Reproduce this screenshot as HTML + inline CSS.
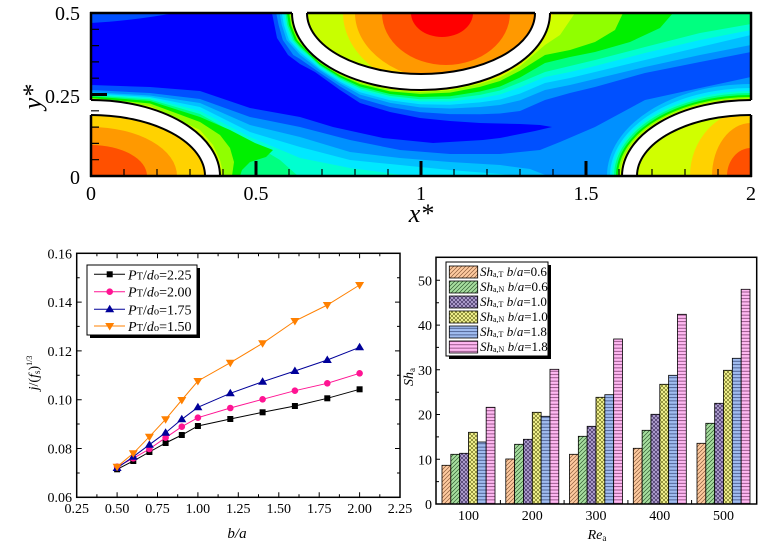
<!DOCTYPE html>
<html><head><meta charset="utf-8"><style>
html,body{margin:0;padding:0;background:#fff;}
svg{display:block;}
text{font-family:"Liberation Serif","Times New Roman",serif;fill:#000;}
</style></head><body>
<svg width="784" height="551" viewBox="0 0 784 551" xmlns="http://www.w3.org/2000/svg">
<defs>
<clipPath id="dom"><rect x="91" y="13" width="660" height="163"/></clipPath>
<clipPath id="t1"><ellipse cx="91" cy="176" rx="114" ry="61"/></clipPath>
<clipPath id="t2"><ellipse cx="421" cy="13" rx="114" ry="61"/></clipPath>
<clipPath id="t3"><ellipse cx="751" cy="176" rx="114" ry="61"/></clipPath>
<pattern id="pa" patternUnits="userSpaceOnUse" width="4" height="4"><rect width="4" height="4" fill="#FFCBA0"/><path d="M-1,1L1,-1M0,4L4,0M3,5L5,3" stroke="#8a5a3a" stroke-width="0.7"/></pattern>
<pattern id="pb" patternUnits="userSpaceOnUse" width="4" height="4"><rect width="4" height="4" fill="#A8DFA0"/><path d="M-1,1L1,-1M0,4L4,0M3,5L5,3" stroke="#305a30" stroke-width="0.7"/></pattern>
<pattern id="pc" patternUnits="userSpaceOnUse" width="4" height="4"><rect width="4" height="4" fill="#B8A8D8"/><path d="M0,0L4,4M4,0L0,4" stroke="#403060" stroke-width="0.7"/></pattern>
<pattern id="pd" patternUnits="userSpaceOnUse" width="4" height="4"><rect width="4" height="4" fill="#FFFF9A"/><path d="M0,0L4,4M4,0L0,4" stroke="#707020" stroke-width="0.7"/></pattern>
<pattern id="pe" patternUnits="userSpaceOnUse" width="4" height="3.3"><rect width="4" height="3.3" fill="#A0BCF0"/><path d="M0,1.6H4" stroke="#304070" stroke-width="0.7"/></pattern>
<pattern id="pf" patternUnits="userSpaceOnUse" width="4" height="3.3"><rect width="4" height="3.3" fill="#FFB8F2"/><path d="M0,1.6H4" stroke="#703060" stroke-width="0.7"/></pattern>
</defs>

<!-- ================= CONTOUR PLOT ================= -->
<g clip-path="url(#dom)">
<rect x="91" y="13" width="660" height="163" fill="#0050FF"/>
<path fill="#0000FF" d="M91,23 Q130,21 175,13 L272,13 L277,38 L288,55 L300,64 L315,72 L340,90 L360,103 L390,112 L420,118 L450,121 L480,123 L520,124 L540,125 L552,127 L535,131 L500,138 L483,140 L433,143 L383,138 L333,127 L300,117 L250,108 L200,91 L150,87 L91,85 Z"/>
<g fill="#0090FF">
<path d="M276.2,0 L276.2,13 L278.6,25 L282.8,40 L293.3,55 L300,59 L320,72.9 L340,86.4 L360,98.4 L390,107 L420,112.1 L450,114.1 L480,114.2 L500,113.5 L520,111 L545,100 L570,93 L595,87 L645,73 L700,62 L751,52 L760,52 L760,0Z"/>
<path d="M80,90 L91,90 L150,93 L200,99 L250,117 L300,127 L350,140 L400,150 L450,154 L500,154 L540,150 L560,142 L595,127 L645,100 L700,88 L751,77 L760,77 L760,190 L80,190 Z"/>
</g>
<g fill="#00C0FF">
<path d="M279.6,0 L279.6,13 L281.8,25 L286.6,40 L300,54.9 L320,70.3 L340,83.5 L360,94.6 L390,102.9 L420,107.4 L450,108.5 L480,107 L500,105 L520,100.4 L545,90 L570,85 L595,79 L645,67 L700,55 L751,45 L760,45 L760,0Z"/>
<path d="M80,91.5 L150,95.5 L200,103 L250,125 L300,137 L350,152 L400,158 L450,162 L500,165 L530,169 L548,176 L548,190 L80,190 Z"/>
<ellipse cx="751" cy="176" rx="144" ry="92"/>
</g>
<g fill="#00E8FF">
<path d="M281.8,0 L281.8,13 L283.9,25 L289,40 L300,52.2 L320,68.7 L340,81.7 L360,92.2 L390,100.2 L420,104.3 L450,104.8 L480,102.4 L500,99.5 L520,93.6 L545,83 L570,78 L595,72 L645,60 L700,47 L751,35 L760,35 L760,0Z"/>
<path d="M80,92.5 L150,97 L200,107 L250,132 L300,147 L350,160 L400,165 L450,170 L500,174 L520,176 L520,190 L80,190 Z"/>
<ellipse cx="751" cy="176" rx="141" ry="88"/>
</g>
<g fill="#00FFD0">
<path d="M283.8,0 L283.8,13 L285.8,25 L291.2,40 L300,49.8 L310,58 L320,67.2 L340,80 L360,90 L390,97.8 L420,101.5 L450,101.5 L480,98.2 L500,94.5 L520,87.4 L545,77 L570,72 L595,66 L645,53 L700,40 L751,30 L760,30 L760,0Z"/>
<path d="M80,93.5 L150,98 L200,111 L250,137 L300,158 L350,168 L410,176 L410,190 L80,190 Z"/>
<ellipse cx="751" cy="176" rx="139" ry="85"/>
</g>
<g fill="#00FF80">
<path d="M285.4,0 L285.4,13 L287.3,25 L293,40 L300,47.9 L310,56.5 L320,66 L340,78.6 L360,88.3 L390,95.9 L420,99.2 L450,98.9 L480,94.9 L500,90.5 L520,82.5 L545,72 L570,66 L595,60 L645,47 L700,33 L751,24 L760,24 L760,0Z"/>
<path d="M80,94.5 L150,99.5 L200,114 L250,142 L280,160 L298,176 L298,190 L80,190 Z"/>
<ellipse cx="751" cy="176" rx="137" ry="83"/>
</g>
<g fill="#00F000">
<path d="M287,0 L287,13 L288.9,25 L294.7,40 L300,46 L310,55.5 L320,64.8 L340,77.3 L360,86.5 L390,94 L420,97 L450,96.3 L480,91.5 L500,86.5 L520,77.5 L545,63 L570,57 L595,52 L630,42 L660,28 L673,13 L673,0Z"/>
<path d="M80,95.5 L150,101 L200,117 L230,130 L255,143 L273,150 L266,157 L250,162 L242,170 L240,176 L240,190 L80,190 Z"/>
<ellipse cx="751" cy="176" rx="135" ry="81"/>
</g>
<g fill="#90FF00">
<path d="M289.2,0 L289.2,13 L291,25 L297.1,40 L300,43.4 L310,54 L320,63.1 L340,75.4 L360,84.1 L390,91.4 L420,93.9 L450,92.6 L480,86.9 L500,81 L520,70.7 L545,55 L570,50 L595,42 L615,30 L623,13 L623,0Z"/>
<path d="M80,97 L150,103.5 L200,122 L220,135 L230,148 L234,162 L232,176 L232,190 L80,190 Z"/>
<ellipse cx="751" cy="176" rx="133" ry="79"/>
</g>
<g fill="#D0FF00">
<path d="M290.6,0 L290.6,13 L292.3,25 L298.7,40 L300,41.7 L310,53 L320,62 L340,74.2 L360,82.5 L390,89.7 L420,92 L450,90.3 L480,83.9 L500,77.5 L520,66.3 L545,45 L560,35 L575,13 L575,0Z"/>
<path d="M80,98.5 L150,106 L200,130 L213,145 L220,160 L224,176 L224,190 L80,190 Z"/>
<ellipse cx="751" cy="176" rx="131" ry="77.5"/>
</g>
<path fill="#FFE000" d="M420,0 L420,91.1 L450,89.3 L480,82.7 L500,76 L520,64.5 L545,38 L553,13 L553,0Z"/>

<g fill="#fff">
<ellipse cx="91" cy="176" rx="129" ry="76"/>
<ellipse cx="421" cy="13" rx="129" ry="77"/>
<ellipse cx="751" cy="176" rx="129" ry="76"/>
</g>
<g clip-path="url(#t1)">
<rect x="-30" y="100" width="250" height="80" fill="#FFD200"/>
<ellipse cx="91" cy="176" rx="86" ry="49" fill="#FF9900"/>
<ellipse cx="91" cy="176" rx="56" ry="31" fill="#FF5000"/>
</g>
<g clip-path="url(#t2)">
<rect x="300" y="0" width="250" height="80" fill="#C8FF00"/>
<ellipse cx="455" cy="13" rx="112" ry="80" fill="#FFD200"/>
<ellipse cx="450" cy="13" rx="95" ry="68" fill="#FF9900"/>
<ellipse cx="446" cy="13" rx="64" ry="52" fill="#FF5000"/>
<ellipse cx="442" cy="13" rx="31" ry="24" fill="#FF0000"/>
</g>
<g clip-path="url(#t3)">
<rect x="630" y="110" width="130" height="70" fill="#D0FF00"/>
<ellipse cx="751" cy="176" rx="61" ry="66" fill="#FFD200"/>
<ellipse cx="751" cy="176" rx="39" ry="53" fill="#FF9900"/>
<ellipse cx="751" cy="176" rx="24" ry="28" fill="#FF5000"/>
</g>
<g fill="none" stroke="#000" stroke-width="2">
<ellipse cx="91" cy="176" rx="114" ry="61"/>
<ellipse cx="91" cy="176" rx="129" ry="76"/>
<ellipse cx="421" cy="13" rx="114" ry="61"/>
<ellipse cx="421" cy="13" rx="129" ry="77"/>
<ellipse cx="751" cy="176" rx="114" ry="61"/>
<ellipse cx="751" cy="176" rx="129" ry="76"/>
</g>
</g>
<!-- frame -->
<g stroke="#000" stroke-width="2.5" fill="none">
<path d="M90,13H292 M307,13H535 M550,13H752"/>
<path d="M91,12V100 M91,115V177 M751,12V100 M751,115V177"/>
<path d="M90,176H752"/>
</g>
<g stroke="#000" fill="none">
<path stroke-width="1.2" d="M91,159.7h8M91,143.4h8M91,127.1h8M91,110.8h8M91,78.2h8M91,61.9h8M91,45.6h8M91,29.3h8"/>
<path stroke-width="3" d="M91,94.5h16"/>
<path stroke-width="1.2" d="M124,176v-7M157,176v-7M190,176v-7M223,176v-7M289,176v-7M322,176v-7M355,176v-7M388,176v-7M454,176v-7M487,176v-7M520,176v-7M553,176v-7M619,176v-7M652,176v-7M685,176v-7M718,176v-7"/>
<path stroke-width="3" d="M256,176v-15M421,176v-15M586,176v-15"/>
</g>
<g font-size="20">
<text x="80" y="20" text-anchor="end">0.5</text>
<text x="80" y="103" text-anchor="end">0.25</text>
<text x="80" y="184" text-anchor="end">0</text>
<text x="91" y="200" text-anchor="middle">0</text>
<text x="256" y="200" text-anchor="middle">0.5</text>
<text x="421" y="200" text-anchor="middle">1</text>
<text x="586" y="200" text-anchor="middle">1.5</text>
<text x="751" y="200" text-anchor="middle">2</text>
</g>
<text transform="translate(41,97) rotate(-90)" text-anchor="middle" font-size="26" font-style="italic">y*</text>
<text x="421" y="222" text-anchor="middle" font-size="26" font-style="italic">x*</text>

<!-- ================= LINE CHART ================= -->
<rect x="76.7" y="253.3" width="323.3" height="244" fill="none" stroke="#000" stroke-width="1.5"/>
<g stroke="#000" stroke-width="1" fill="none">
<path d="M117.1,497.3v-5M157.5,497.3v-5M197.9,497.3v-5M238.3,497.3v-5M278.8,497.3v-5M319.2,497.3v-5M359.6,497.3v-5"/>
<path d="M96.9,497.3v-3M137.3,497.3v-3M177.7,497.3v-3M218.1,497.3v-3M258.5,497.3v-3M299,497.3v-3M339.4,497.3v-3M379.8,497.3v-3"/>
<path d="M117.1,253.3v5M157.5,253.3v5M197.9,253.3v5M238.3,253.3v5M278.8,253.3v5M319.2,253.3v5M359.6,253.3v5"/>
<path d="M96.9,253.3v3M137.3,253.3v3M177.7,253.3v3M218.1,253.3v3M258.5,253.3v3M299,253.3v3M339.4,253.3v3M379.8,253.3v3"/>
<path d="M76.7,448.5h5M76.7,399.7h5M76.7,350.9h5M76.7,302.1h5M76.7,473h3M76.7,424h3M76.7,375.2h3M76.7,326.4h3M76.7,277.7h3"/>
<path d="M400,448.5h-5M400,399.7h-5M400,350.9h-5M400,302.1h-5M400,473h-3M400,424h-3M400,375.2h-3M400,326.4h-3M400,277.7h-3"/>
</g>
<g font-size="14" text-anchor="end">
<text x="72" y="502">0.06</text>
<text x="72" y="453.5">0.08</text>
<text x="72" y="404.7">0.10</text>
<text x="72" y="355.9">0.12</text>
<text x="72" y="307.1">0.14</text>
<text x="72" y="258.3">0.16</text>
</g>
<g font-size="14" text-anchor="middle">
<text x="76.7" y="513">0.25</text>
<text x="117.1" y="513">0.50</text>
<text x="157.5" y="513">0.75</text>
<text x="197.9" y="513">1.00</text>
<text x="238.3" y="513">1.25</text>
<text x="278.8" y="513">1.50</text>
<text x="319.2" y="513">1.75</text>
<text x="359.6" y="513">2.00</text>
<text x="400" y="513">2.25</text>
</g>
<text transform="translate(38,373) rotate(-90)" text-anchor="middle" font-size="14"><tspan font-style="italic">j</tspan>/(<tspan font-style="italic">f</tspan><tspan font-size="9" dy="2">s</tspan><tspan dy="-2">)</tspan><tspan font-size="8" dy="-6">1/3</tspan></text>
<text x="237" y="538" text-anchor="middle" font-size="15" font-style="italic">b/a</text>

<!-- series -->
<g fill="none" stroke-width="1">
<polyline stroke="#000" points="117.1,469.3 133.3,461 149.4,452 165.6,443 181.8,435 197.9,426 230.3,419 262.6,412.3 294.9,406 327.3,398.3 359.6,389.3"/>
<polyline stroke="#FF1493" points="117.1,466.7 133.3,458.3 149.4,449 165.6,437.7 181.8,426.7 197.9,417.7 230.3,408 262.6,399.3 294.9,390.7 327.3,383.3 359.6,373.3"/>
<polyline stroke="#000099" points="117.1,468 133.3,456.7 149.4,444.7 165.6,432.7 181.8,419.3 197.9,407.3 230.3,393.3 262.6,381.7 294.9,371 327.3,360 359.6,347.3"/>
<polyline stroke="#FF8000" points="117.1,466.7 133.3,453.3 149.4,436.7 165.6,419.3 181.8,400 197.9,381 230.3,362.7 262.6,343.3 294.9,321 327.3,305 359.6,285"/>
</g>
<g fill="#000">
<rect x="114.1" y="466.3" width="6" height="6"/><rect x="130.3" y="458" width="6" height="6"/><rect x="146.4" y="449" width="6" height="6"/><rect x="162.6" y="440" width="6" height="6"/><rect x="178.8" y="432" width="6" height="6"/><rect x="194.9" y="423" width="6" height="6"/><rect x="227.3" y="416" width="6" height="6"/><rect x="259.6" y="409.3" width="6" height="6"/><rect x="291.9" y="403" width="6" height="6"/><rect x="324.3" y="395.3" width="6" height="6"/><rect x="356.6" y="386.3" width="6" height="6"/>
</g>
<g fill="#FF1493">
<circle cx="117.1" cy="466.7" r="3.3"/><circle cx="133.3" cy="458.3" r="3.3"/><circle cx="149.4" cy="449" r="3.3"/><circle cx="165.6" cy="437.7" r="3.3"/><circle cx="181.8" cy="426.7" r="3.3"/><circle cx="197.9" cy="417.7" r="3.3"/><circle cx="230.3" cy="408" r="3.3"/><circle cx="262.6" cy="399.3" r="3.3"/><circle cx="294.9" cy="390.7" r="3.3"/><circle cx="327.3" cy="383.3" r="3.3"/><circle cx="359.6" cy="373.3" r="3.3"/>
</g>
<g fill="#000099">
<path d="M117.1,463.5l4.5,7.5h-9z M133.3,452.2l4.5,7.5h-9z M149.4,440.2l4.5,7.5h-9z M165.6,428.2l4.5,7.5h-9z M181.8,414.8l4.5,7.5h-9z M197.9,402.8l4.5,7.5h-9z M230.3,388.8l4.5,7.5h-9z M262.6,377.2l4.5,7.5h-9z M294.9,366.5l4.5,7.5h-9z M327.3,355.5l4.5,7.5h-9z M359.6,342.8l4.5,7.5h-9z"/>
</g>
<g fill="#FF8000">
<path d="M117.1,471.2l4.5,-7.5h-9z M133.3,457.8l4.5,-7.5h-9z M149.4,441.2l4.5,-7.5h-9z M165.6,423.8l4.5,-7.5h-9z M181.8,404.5l4.5,-7.5h-9z M197.9,385.5l4.5,-7.5h-9z M230.3,367.2l4.5,-7.5h-9z M262.6,347.8l4.5,-7.5h-9z M294.9,325.5l4.5,-7.5h-9z M327.3,309.5l4.5,-7.5h-9z M359.6,289.5l4.5,-7.5h-9z"/>
</g>
<!-- legend -->
<rect x="90" y="268" width="110" height="70" fill="#000"/>
<rect x="87" y="265" width="110" height="70" fill="#fff" stroke="#000" stroke-width="1"/>
<g stroke-width="1">
<line x1="94" y1="274.3" x2="125" y2="274.3" stroke="#000"/>
<line x1="94" y1="291.7" x2="125" y2="291.7" stroke="#FF1493"/>
<line x1="94" y1="309.3" x2="125" y2="309.3" stroke="#000099"/>
<line x1="94" y1="326" x2="125" y2="326" stroke="#FF8000"/>
</g>
<rect x="106.7" y="271.3" width="6" height="6" fill="#000"/>
<circle cx="109.7" cy="291.7" r="3.3" fill="#FF1493"/>
<path d="M109.7,304.8l4.5,7.5h-9z" fill="#000099"/>
<path d="M109.7,330.5l4.5,-7.5h-9z" fill="#FF8000"/>
<g font-size="14">
<text x="128" y="279.3"><tspan font-style="italic">P</tspan><tspan font-size="10.5">T</tspan>/<tspan font-style="italic">d</tspan><tspan font-size="10.5">o</tspan>=2.25</text>
<text x="128" y="296.7"><tspan font-style="italic">P</tspan><tspan font-size="10.5">T</tspan>/<tspan font-style="italic">d</tspan><tspan font-size="10.5">o</tspan>=2.00</text>
<text x="128" y="314.3"><tspan font-style="italic">P</tspan><tspan font-size="10.5">T</tspan>/<tspan font-style="italic">d</tspan><tspan font-size="10.5">o</tspan>=1.75</text>
<text x="128" y="331"><tspan font-style="italic">P</tspan><tspan font-size="10.5">T</tspan>/<tspan font-style="italic">d</tspan><tspan font-size="10.5">o</tspan>=1.50</text>
</g>

<!-- ================= BAR CHART ================= -->
<g stroke="#000" stroke-width="0.8">
<rect x="442" y="465.3" width="8.83" height="38.7" fill="url(#pa)"/>
<rect x="450.83" y="454.3" width="8.83" height="49.7" fill="url(#pb)"/>
<rect x="459.67" y="453.3" width="8.83" height="50.7" fill="url(#pc)"/>
<rect x="468.5" y="432.3" width="8.83" height="71.7" fill="url(#pd)"/>
<rect x="477.33" y="442" width="8.83" height="62" fill="url(#pe)"/>
<rect x="486.17" y="407.3" width="8.83" height="96.7" fill="url(#pf)"/>

<rect x="505.8" y="459" width="8.83" height="45" fill="url(#pa)"/>
<rect x="514.63" y="444.3" width="8.83" height="59.7" fill="url(#pb)"/>
<rect x="523.47" y="439.3" width="8.83" height="64.7" fill="url(#pc)"/>
<rect x="532.3" y="412.3" width="8.83" height="91.7" fill="url(#pd)"/>
<rect x="541.13" y="416.3" width="8.83" height="87.7" fill="url(#pe)"/>
<rect x="549.97" y="369.3" width="8.83" height="134.7" fill="url(#pf)"/>

<rect x="569.5" y="454.3" width="8.83" height="49.7" fill="url(#pa)"/>
<rect x="578.33" y="436.3" width="8.83" height="67.7" fill="url(#pb)"/>
<rect x="587.17" y="426.3" width="8.83" height="77.7" fill="url(#pc)"/>
<rect x="596" y="397.3" width="8.83" height="106.7" fill="url(#pd)"/>
<rect x="604.83" y="394.7" width="8.83" height="109.3" fill="url(#pe)"/>
<rect x="613.67" y="339" width="8.83" height="165" fill="url(#pf)"/>

<rect x="633.3" y="448.3" width="8.83" height="55.7" fill="url(#pa)"/>
<rect x="642.13" y="430.3" width="8.83" height="73.7" fill="url(#pb)"/>
<rect x="650.97" y="414.3" width="8.83" height="89.7" fill="url(#pc)"/>
<rect x="659.8" y="384.3" width="8.83" height="119.7" fill="url(#pd)"/>
<rect x="668.63" y="375.3" width="8.83" height="128.7" fill="url(#pe)"/>
<rect x="677.47" y="314.3" width="8.83" height="189.7" fill="url(#pf)"/>

<rect x="697" y="443.3" width="8.83" height="60.7" fill="url(#pa)"/>
<rect x="705.83" y="423.3" width="8.83" height="80.7" fill="url(#pb)"/>
<rect x="714.67" y="403.3" width="8.83" height="100.7" fill="url(#pc)"/>
<rect x="723.5" y="370.3" width="8.83" height="133.7" fill="url(#pd)"/>
<rect x="732.33" y="358.3" width="8.83" height="145.7" fill="url(#pe)"/>
<rect x="741.17" y="289.3" width="8.83" height="214.7" fill="url(#pf)"/>
</g>
<rect x="436" y="257.3" width="320.7" height="246.7" fill="none" stroke="#000" stroke-width="1.5"/>
<g stroke="#000" stroke-width="1" fill="none">
<path d="M436,481.6h3M436,459.3h4M436,436.9h3M436,414.5h4M436,392.2h3M436,369.8h4M436,347.4h3M436,325.1h4M436,302.7h3M436,280.3h4"/>
<path d="M500.4,504v-4M564.1,504v-4M627.9,504v-4M691.6,504v-4"/>
</g>
<g font-size="14" text-anchor="end">
<text x="432" y="509">0</text>
<text x="432" y="464.3">10</text>
<text x="432" y="419.5">20</text>
<text x="432" y="374.8">30</text>
<text x="432" y="330.1">40</text>
<text x="432" y="285.3">50</text>
</g>
<g font-size="14" text-anchor="middle">
<text x="468.5" y="520">100</text>
<text x="532.3" y="520">200</text>
<text x="596" y="520">300</text>
<text x="659.8" y="520">400</text>
<text x="723.5" y="520">500</text>
</g>
<text transform="translate(413,377) rotate(-90)" text-anchor="middle" font-size="14"><tspan font-style="italic">Sh</tspan><tspan font-size="9" dy="2">a</tspan></text>
<text x="597" y="539" text-anchor="middle" font-size="14"><tspan font-style="italic">Re</tspan><tspan font-size="9" dy="2">a</tspan></text>
<!-- bar legend -->
<rect x="449" y="265" width="102" height="94" fill="#000"/>
<rect x="446" y="262" width="102" height="94" fill="#fff" stroke="#000" stroke-width="1"/>
<g stroke="#000" stroke-width="0.8">
<rect x="449.3" y="266" width="28.4" height="12" fill="url(#pa)"/>
<rect x="449.3" y="281" width="28.4" height="12" fill="url(#pb)"/>
<rect x="449.3" y="296" width="28.4" height="12" fill="url(#pc)"/>
<rect x="449.3" y="311" width="28.4" height="12" fill="url(#pd)"/>
<rect x="449.3" y="326" width="28.4" height="12" fill="url(#pe)"/>
<rect x="449.3" y="341" width="28.4" height="12" fill="url(#pf)"/>
</g>
<g font-size="13">
<text x="480" y="276"><tspan font-style="italic">Sh</tspan><tspan font-size="8" dy="1">a,T</tspan><tspan dy="-1">&#160;</tspan><tspan font-style="italic">b</tspan>/<tspan font-style="italic">a</tspan>=0.6</text>
<text x="480" y="291"><tspan font-style="italic">Sh</tspan><tspan font-size="8" dy="1">a,N</tspan><tspan dy="-1">&#160;</tspan><tspan font-style="italic">b</tspan>/<tspan font-style="italic">a</tspan>=0.6</text>
<text x="480" y="306"><tspan font-style="italic">Sh</tspan><tspan font-size="8" dy="1">a,T</tspan><tspan dy="-1">&#160;</tspan><tspan font-style="italic">b</tspan>/<tspan font-style="italic">a</tspan>=1.0</text>
<text x="480" y="321"><tspan font-style="italic">Sh</tspan><tspan font-size="8" dy="1">a,N</tspan><tspan dy="-1">&#160;</tspan><tspan font-style="italic">b</tspan>/<tspan font-style="italic">a</tspan>=1.0</text>
<text x="480" y="336"><tspan font-style="italic">Sh</tspan><tspan font-size="8" dy="1">a,T</tspan><tspan dy="-1">&#160;</tspan><tspan font-style="italic">b</tspan>/<tspan font-style="italic">a</tspan>=1.8</text>
<text x="480" y="351"><tspan font-style="italic">Sh</tspan><tspan font-size="8" dy="1">a,N</tspan><tspan dy="-1">&#160;</tspan><tspan font-style="italic">b</tspan>/<tspan font-style="italic">a</tspan>=1.8</text>
</g>
</svg>
</body></html>
